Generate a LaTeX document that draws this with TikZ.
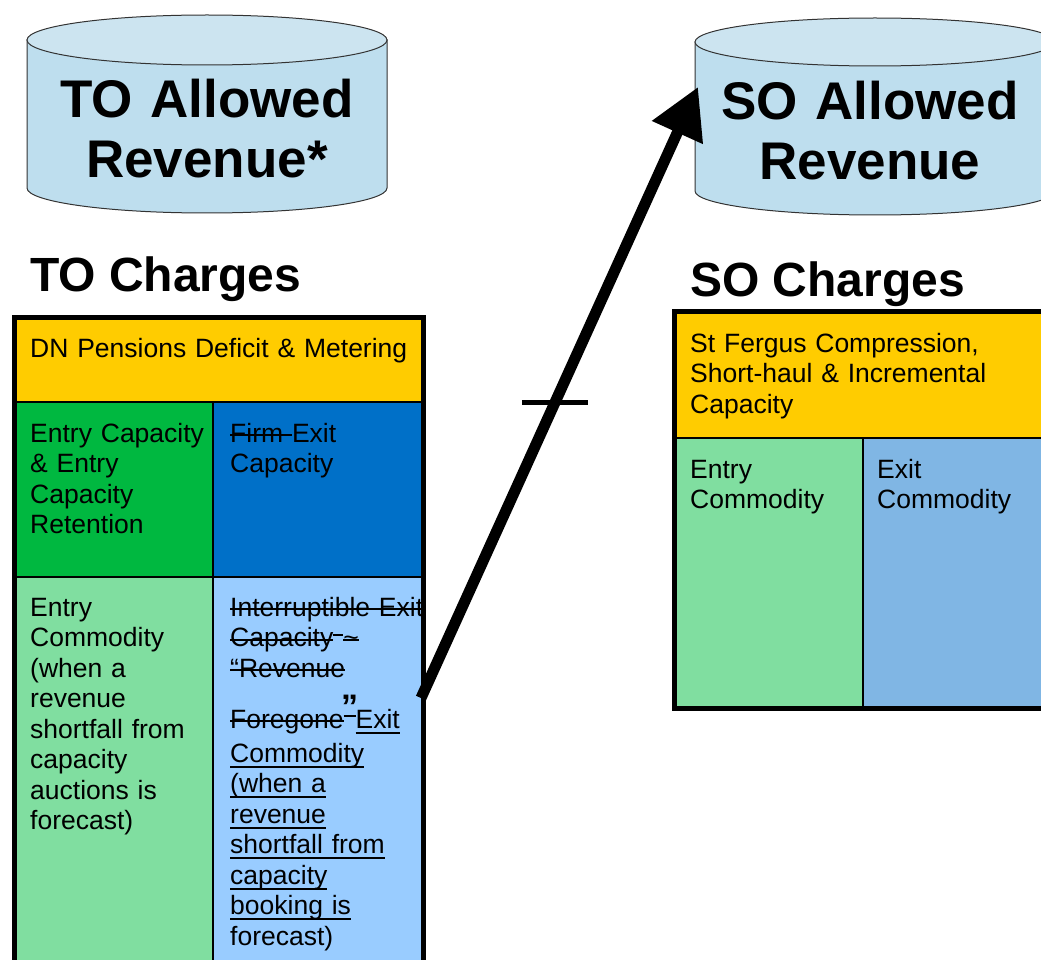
\documentclass[tikz,border=0pt]{standalone}
\usepackage{fontspec}
\setmainfont{Liberation Sans}
\usetikzlibrary{arrows.meta}

\newsavebox\markbox
\newcommand{\strk}[1]{\leavevmode\sbox\markbox{#1}\rlap{\rule[6pt]{\wd\markbox}{1.8pt}}\usebox\markbox}
\newcommand{\undl}[1]{\leavevmode\sbox\markbox{#1}\rlap{\rule[-5.5pt]{\wd\markbox}{1.8pt}}\usebox\markbox}

\definecolor{cylbody}{RGB}{190,222,238}
\definecolor{cyltop}{RGB}{204,228,240}
\definecolor{tyellow}{RGB}{255,204,0}
\definecolor{tgreen}{RGB}{0,184,64}
\definecolor{tblue}{RGB}{0,112,200}
\definecolor{tltgreen}{RGB}{128,222,160}
\definecolor{tltblue}{RGB}{153,204,255}
\definecolor{sltblue}{RGB}{128,182,228}

\tikzset{
  cylside/.style={fill=cylbody, draw=black!80, line width=1pt},
  cyllid/.style={fill=cyltop, draw=black!80, line width=1pt},
  cyltext/.style={anchor=base, inner sep=0pt, text width=360pt, align=center,
    font=\bfseries\fontsize{53}{60}\selectfont},
  heading/.style={anchor=base west, inner sep=0pt, font=\bfseries\fontsize{48}{56}\selectfont},
  cell/.style={draw=black, line width=2.5pt},
  celltext/.style={anchor=base west, inner sep=0pt, text width=420pt, align=left,
    font=\fontsize{26.5}{30.5}\selectfont},
  frame/.style={draw=black, line width=5pt},
}

\begin{document}
\begin{tikzpicture}[x=1pt, y=-1pt]
        \useasboundingbox (0,0) rectangle (1041,960);
        \clip (0,0) rectangle (1041,960);

        % TO cylinder
        \filldraw[cylside] (27,40) -- (27,188) arc[start angle=180, end angle=0, x radius=180, y radius=25] -- (387,40) -- cycle;
        \filldraw[cyllid] (207,40) ellipse[x radius=180, y radius=25];
        \node[cyltext] (toar) at (207,118) {TO Allowed\\Revenue*};

        % SO cylinder
        \filldraw[cylside] (695,42) -- (695,191) arc[start angle=180, end angle=0, x radius=180, y radius=24] -- (1055,42) -- cycle;
        \filldraw[cyllid] (875,42) ellipse[x radius=180, y radius=24];
        \node[cyltext] (soar) at (870,120) {SO Allowed\\Revenue};

        % headings
        \node[heading] (tohead) at (30,291) {TO Charges};
        \node[heading] (sohead) at (690,296) {SO Charges};

        % TO table
        \filldraw[cell, fill=tyellow] (14,317) rectangle (423,402);
        \filldraw[cell, fill=tgreen] (14,402) rectangle (213,577);
        \filldraw[cell, fill=tblue] (213,402) rectangle (423,577);
        \filldraw[cell, fill=tltgreen] (14,577) rectangle (213,980);
        \filldraw[cell, fill=tltblue] (213,577) rectangle (423,980);

        \node[celltext] (dnpen) at (30,357) {DN Pensions Deficit \& Metering};
        \node[celltext] (entrycap) at (30,442) {Entry Capacity\\\& Entry\\Capacity\\Retention};
        \node[celltext] (exitcap) at (230,442) {\strk{Firm }Exit\\Capacity};
        \node[celltext] (entrycom) at (30,616) {Entry\\Commodity\\(when a\\revenue\\shortfall from\\capacity\\auctions is\\forecast)};
        \node[celltext] (exitcom) at (230,616) {\strk{Interruptible Exit}\\
          \strk{Capacity}\rule[11pt]{10pt}{2pt}\strk{\textasciitilde}\\
          \strk{“Revenue}\\[20.5pt]
          \strk{Foregone}\rule[11pt]{12pt}{2pt}\undl{Exit}\\[3.5pt]
          \undl{Commodity}\\\undl{(when a}\\\undl{revenue}\\\undl{shortfall from}\\
          \undl{capacity}\\\undl{booking is}\\forecast)};
        \node[anchor=base west, inner sep=0pt, font=\bfseries\fontsize{34}{34}\selectfont] (rquote) at (341,718) {”};

        \draw[frame] (14,980) -- (14,317) -- (423,317) -- (423,980);

        % SO table
        \filldraw[cell, fill=tyellow] (674,311) rectangle (1060,438);
        \filldraw[cell, fill=tltgreen] (674,438) rectangle (863,708);
        \filldraw[cell, fill=sltblue] (863,438) rectangle (1060,708);

        \node[celltext] (sfergus) at (690,352) {St Fergus Compression,\\Short-haul \& Incremental\\Capacity};
        \node[celltext] (soentry) at (690,478) {Entry\\Commodity};
        \node[celltext] (soexit) at (877,478) {Exit\\Commodity};

        \draw[frame] (1060,311) -- (674,311) -- (674,708) -- (1060,708);

        % arrow
        \coordinate (tail) at (421,698);
        \coordinate (tip) at (698,87);
        \draw[-{Triangle[length=50pt, width=53pt]}, line width=11pt] (tail) -- (tip);

        % cross mark
        \path (tail) -- (tip) coordinate[pos=0.483] (cross);
        \draw[line width=5pt] ([xshift=-33pt]cross) -- ([xshift=33pt]cross);
    \end{tikzpicture}
\end{document}
